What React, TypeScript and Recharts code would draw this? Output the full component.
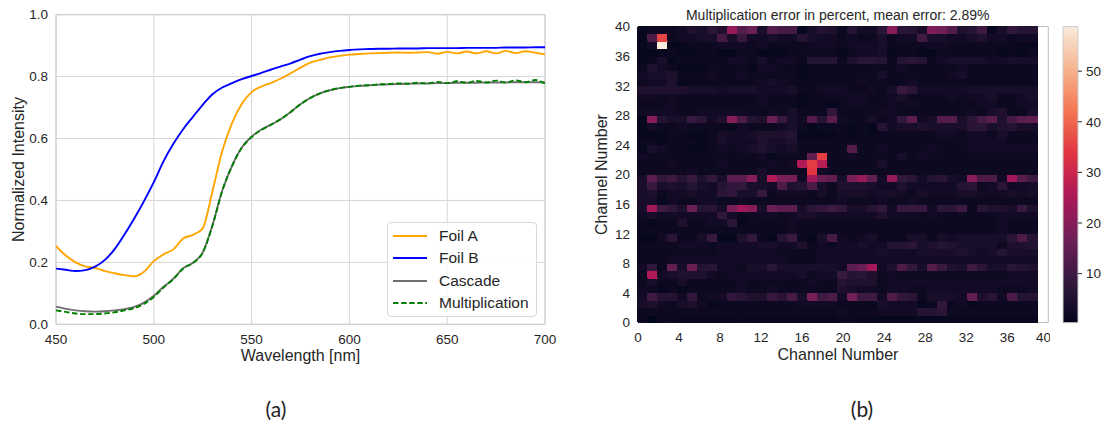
import {
  Bar,
  BarChart,
  CartesianGrid,
  Cell,
  Label,
  Legend,
  Line,
  LineChart,
  ReferenceArea,
  XAxis,
  YAxis,
} from 'recharts'

const FONT = '"Liberation Sans", Arial, Helvetica, sans-serif'
const INK = '#262626'
const GRID = '#d6d6d6'
const FRAME = '#cccccc'

// ---- (a) spectra ----
const wavelengths = [
  450, 455, 460, 465, 470, 475, 480, 485, 490, 495, 500, 505, 510, 515, 520, 525, 530,
  535, 540, 545, 550, 555, 560, 565, 570, 575, 580, 585, 590, 595, 600, 605, 610, 615,
  620, 625, 630, 635, 640, 645, 650, 655, 660, 665, 670, 675, 680, 685, 690, 695, 700,
]
const foilA = [
  0.253, 0.222, 0.2, 0.187, 0.182, 0.172, 0.165, 0.159, 0.155, 0.17, 0.204, 0.226, 0.242,
  0.277, 0.289, 0.31, 0.43, 0.56, 0.65, 0.712, 0.75, 0.768, 0.78, 0.794, 0.811, 0.829,
  0.845, 0.854, 0.862, 0.867, 0.871, 0.873, 0.875, 0.876, 0.877, 0.878, 0.877, 0.878,
  0.879, 0.874, 0.88, 0.875, 0.881, 0.875, 0.882, 0.875, 0.883, 0.876, 0.882, 0.877, 0.872,
]
const foilB = [
  0.18, 0.176, 0.172, 0.175, 0.186, 0.208, 0.243, 0.29, 0.342, 0.398, 0.459, 0.527, 0.583,
  0.63, 0.67, 0.709, 0.743, 0.765, 0.779, 0.792, 0.802, 0.812, 0.823, 0.833, 0.843, 0.855,
  0.866, 0.874, 0.879, 0.883, 0.886, 0.888, 0.889, 0.89, 0.89, 0.891, 0.891, 0.891, 0.892,
  0.892, 0.892, 0.892, 0.893, 0.893, 0.893, 0.893, 0.894, 0.894, 0.894, 0.895, 0.895,
]
const cascade = [
  0.057, 0.05, 0.045, 0.042, 0.041, 0.042, 0.045, 0.049, 0.056, 0.07, 0.092, 0.121, 0.147,
  0.181, 0.199, 0.232, 0.32, 0.432, 0.512, 0.571, 0.606, 0.629, 0.645, 0.663, 0.686, 0.711,
  0.731, 0.746, 0.756, 0.763, 0.767, 0.77, 0.772, 0.774, 0.775, 0.776, 0.777, 0.778, 0.778,
  0.779, 0.779, 0.78, 0.78, 0.78, 0.781, 0.781, 0.781, 0.782, 0.782, 0.782, 0.781,
]
const multiplication = [
  0.045, 0.04, 0.035, 0.033, 0.033, 0.035, 0.039, 0.045, 0.052, 0.066, 0.088, 0.119, 0.146,
  0.18, 0.198, 0.231, 0.319, 0.431, 0.511, 0.57, 0.605, 0.628, 0.645, 0.663, 0.686, 0.711,
  0.731, 0.746, 0.756, 0.763, 0.767, 0.771, 0.772, 0.775, 0.776, 0.778, 0.777, 0.78, 0.778,
  0.783, 0.779, 0.785, 0.78, 0.786, 0.781, 0.787, 0.781, 0.788, 0.782, 0.789, 0.778,
]
const wavelengthTicks = [450, 500, 550, 600, 650, 700]
const intensityTicks = [0, 0.2, 0.4, 0.6, 0.8, 1]

const series = [
  { key: 'foilA', name: 'Foil A', color: '#ffa500', dash: undefined },
  { key: 'foilB', name: 'Foil B', color: '#0000ff', dash: undefined },
  { key: 'cascade', name: 'Cascade', color: '#707070', dash: undefined },
  { key: 'multiplication', name: 'Multiplication', color: '#008000', dash: '5.5 2.6' },
]

const lineRows = wavelengths.map((wavelength, i) => ({
  wavelength,
  foilA: foilA[i],
  foilB: foilB[i],
  cascade: cascade[i],
  multiplication: multiplication[i],
}))

// ---- (b) error heatmap, rows from channel 39 (top) down to channel 0 ----
const errorRows = [
  [1, 2, 2, 2, 3, 5, 4, 7, 5, 22, 13, 16, 4, 13, 11, 11, 1, 4, 6, 5, 2, 6, 3, 3, 7, 20, 7, 6, 4, 19, 17, 13, 5, 6, 10, 1, 4, 8, 6, 6],
  [1, 12, 36, 2, 3, 3, 4, 4, 11, 4, 9, 3, 3, 4, 3, 3, 6, 4, 3, 3, 2, 3, 2, 2, 4, 2, 3, 3, 10, 4, 4, 3, 3, 4, 5, 3, 3, 2, 3, 3],
  [1, 3, 58.8, 1, 1, 2, 2, 2, 3, 3, 3, 2, 3, 2, 2, 2, 2, 3, 3, 3, 2, 3, 3, 3, 4, 2, 2, 2, 2, 3, 3, 2, 2, 2, 2, 2, 2, 2, 1, 1],
  [1, 1, 1, 2, 1, 1, 2, 2, 1, 1, 2, 2, 1, 1, 1, 2, 2, 2, 2, 2, 1, 2, 3, 3, 4, 1, 2, 2, 1, 1, 2, 2, 2, 2, 2, 2, 1, 2, 1, 2],
  [1, 2, 4, 1, 2, 2, 2, 2, 2, 3, 3, 2, 4, 2, 3, 3, 2, 6, 6, 6, 2, 5, 7, 7, 6, 2, 6, 7, 6, 2, 3, 4, 4, 4, 4, 3, 3, 4, 4, 4],
  [2, 5, 3, 2, 1, 1, 1, 2, 2, 2, 2, 1, 3, 3, 2, 2, 1, 2, 2, 2, 2, 2, 2, 2, 2, 2, 3, 2, 2, 2, 2, 2, 3, 2, 2, 2, 2, 2, 2, 2],
  [3, 4, 4, 5, 2, 2, 2, 3, 2, 2, 3, 2, 2, 2, 2, 2, 1, 2, 2, 2, 2, 2, 2, 2, 4, 2, 2, 2, 2, 2, 2, 3, 4, 2, 2, 2, 2, 2, 2, 2],
  [2, 3, 3, 5, 1, 2, 2, 2, 2, 2, 2, 2, 3, 4, 3, 2, 2, 2, 2, 2, 2, 2, 3, 2, 2, 2, 2, 3, 2, 2, 2, 2, 2, 2, 2, 2, 2, 2, 2, 2],
  [5, 5, 5, 5, 5, 4, 4, 4, 3, 4, 4, 4, 3, 3, 3, 4, 2, 2, 3, 3, 3, 2, 2, 3, 2, 4, 9, 7, 3, 3, 3, 3, 3, 4, 4, 4, 4, 4, 4, 4],
  [3, 3, 2, 3, 2, 2, 2, 2, 2, 2, 2, 2, 3, 2, 2, 2, 1, 2, 2, 2, 2, 3, 3, 2, 2, 3, 4, 2, 2, 2, 2, 3, 2, 3, 3, 4, 2, 2, 3, 4],
  [2, 2, 2, 3, 2, 2, 2, 2, 2, 2, 2, 2, 3, 2, 2, 2, 1, 2, 2, 1, 2, 3, 3, 2, 2, 3, 2, 3, 2, 2, 2, 2, 2, 2, 3, 3, 2, 2, 3, 3],
  [3, 3, 3, 3, 2, 2, 3, 3, 3, 3, 3, 2, 2, 3, 2, 4, 2, 2, 2, 8, 2, 2, 2, 2, 3, 3, 2, 2, 2, 2, 2, 2, 2, 3, 2, 4, 5, 2, 2, 4],
  [1, 20, 6, 4, 4, 9, 7, 3, 5, 20, 12, 6, 5, 16, 9, 4, 3, 13, 6, 14, 3, 2, 2, 4, 2, 3, 8, 14, 3, 4, 13, 13, 4, 7, 11, 14, 5, 11, 14, 15],
  [1, 3, 2, 2, 3, 2, 2, 2, 2, 1, 3, 2, 2, 2, 3, 4, 2, 1, 2, 2, 2, 1, 2, 1, 6, 3, 4, 4, 5, 4, 4, 4, 4, 7, 7, 4, 5, 6, 4, 4],
  [1, 1, 1, 2, 2, 1, 1, 2, 4, 3, 3, 4, 5, 5, 5, 6, 1, 1, 1, 1, 2, 1, 2, 1, 2, 2, 2, 2, 2, 2, 3, 3, 2, 3, 3, 2, 4, 2, 2, 2],
  [2, 2, 1, 2, 2, 2, 1, 2, 4, 3, 3, 3, 5, 4, 4, 5, 2, 2, 2, 2, 2, 2, 2, 2, 2, 2, 2, 2, 2, 2, 2, 2, 2, 3, 3, 3, 3, 2, 2, 2],
  [1, 4, 3, 2, 2, 1, 1, 2, 3, 2, 3, 4, 5, 4, 3, 4, 2, 2, 2, 2, 2, 13, 2, 2, 3, 2, 2, 2, 2, 3, 2, 2, 2, 3, 3, 3, 3, 3, 3, 3],
  [3, 2, 2, 2, 2, 2, 2, 2, 2, 2, 2, 2, 3, 1, 2, 2, 2, 15, 35, 2, 2, 3, 2, 2, 2, 2, 4, 2, 3, 2, 2, 2, 2, 2, 2, 2, 2, 2, 2, 2],
  [2, 2, 2, 3, 2, 2, 2, 2, 3, 2, 2, 2, 2, 3, 2, 3, 26, 35, 27, 2, 2, 2, 2, 2, 4, 2, 2, 2, 2, 2, 2, 2, 2, 2, 2, 2, 2, 2, 2, 2],
  [2, 2, 2, 2, 2, 3, 2, 2, 2, 2, 2, 2, 4, 2, 2, 2, 2, 34, 3, 2, 2, 2, 2, 2, 2, 2, 2, 2, 2, 2, 2, 2, 2, 2, 2, 2, 2, 2, 2, 2],
  [4, 14, 8, 10, 6, 9, 5, 8, 4, 14, 14, 20, 4, 26, 18, 18, 3, 24, 16, 15, 4, 18, 22, 15, 3, 22, 8, 7, 3, 6, 7, 4, 3, 20, 12, 12, 3, 24, 14, 10],
  [4, 9, 4, 5, 4, 6, 4, 3, 6, 8, 8, 4, 4, 3, 12, 5, 6, 12, 4, 2, 5, 5, 5, 4, 3, 3, 5, 3, 3, 3, 3, 3, 6, 7, 2, 3, 7, 3, 3, 4],
  [4, 5, 2, 3, 3, 4, 3, 3, 7, 8, 4, 4, 9, 2, 3, 3, 3, 2, 4, 2, 4, 4, 4, 3, 4, 4, 3, 2, 4, 3, 3, 3, 4, 4, 3, 3, 3, 4, 3, 4],
  [4, 4, 1, 3, 2, 2, 3, 3, 2, 2, 3, 2, 2, 2, 2, 2, 2, 2, 2, 2, 3, 2, 2, 2, 3, 2, 2, 3, 2, 2, 2, 2, 2, 2, 2, 2, 2, 2, 2, 2],
  [4, 24, 10, 8, 5, 16, 6, 7, 4, 18, 24, 20, 4, 16, 14, 14, 4, 7, 8, 10, 8, 4, 4, 6, 8, 3, 9, 9, 9, 3, 7, 7, 10, 2, 7, 5, 5, 4, 9, 5],
  [3, 4, 3, 3, 3, 3, 3, 3, 8, 3, 2, 2, 3, 3, 2, 3, 4, 4, 3, 3, 3, 3, 3, 3, 5, 3, 3, 3, 2, 3, 2, 2, 2, 2, 2, 2, 3, 3, 3, 3],
  [2, 1, 2, 2, 5, 2, 2, 3, 3, 7, 1, 2, 2, 2, 2, 3, 2, 2, 2, 2, 2, 2, 2, 2, 2, 2, 2, 2, 2, 2, 2, 2, 2, 2, 2, 2, 3, 2, 2, 2],
  [2, 2, 2, 2, 2, 2, 2, 2, 2, 2, 2, 2, 2, 2, 2, 3, 2, 2, 2, 2, 2, 2, 2, 2, 2, 2, 2, 2, 2, 2, 2, 2, 2, 2, 2, 2, 3, 2, 2, 2],
  [1, 1, 3, 7, 2, 2, 4, 9, 1, 1, 5, 8, 2, 1, 6, 9, 2, 1, 4, 11, 3, 2, 3, 4, 2, 2, 2, 4, 4, 2, 4, 3, 4, 4, 4, 4, 4, 7, 12, 6],
  [2, 2, 2, 2, 3, 3, 3, 2, 3, 3, 3, 3, 4, 4, 3, 3, 5, 2, 3, 2, 3, 3, 4, 3, 3, 6, 6, 7, 4, 5, 6, 5, 4, 4, 4, 4, 2, 5, 5, 6],
  [2, 2, 2, 2, 2, 2, 2, 2, 3, 3, 3, 3, 3, 3, 2, 2, 2, 2, 3, 3, 3, 3, 3, 3, 4, 3, 3, 3, 4, 4, 4, 4, 5, 4, 3, 4, 6, 4, 4, 4],
  [2, 2, 2, 3, 3, 3, 3, 3, 3, 3, 3, 3, 3, 3, 3, 2, 2, 2, 3, 3, 3, 3, 3, 3, 3, 3, 3, 3, 3, 3, 3, 3, 3, 3, 3, 3, 3, 3, 3, 3],
  [3, 8, 2, 15, 4, 16, 6, 7, 3, 3, 2, 4, 4, 7, 4, 4, 4, 4, 4, 4, 3, 14, 16, 24, 3, 5, 12, 8, 4, 13, 9, 5, 4, 10, 7, 4, 4, 7, 6, 5],
  [2, 26, 3, 4, 5, 5, 5, 3, 2, 3, 3, 3, 3, 3, 3, 3, 4, 2, 3, 3, 9, 6, 7, 5, 2, 3, 2, 2, 2, 2, 2, 2, 2, 2, 2, 2, 2, 3, 3, 3],
  [2, 4, 2, 2, 4, 2, 2, 2, 2, 2, 3, 2, 2, 2, 2, 2, 2, 3, 2, 2, 6, 5, 5, 5, 2, 3, 3, 3, 3, 3, 3, 3, 3, 3, 3, 3, 3, 3, 3, 3],
  [3, 2, 1, 2, 1, 2, 2, 2, 2, 2, 3, 2, 2, 3, 2, 2, 2, 2, 2, 2, 5, 4, 3, 3, 2, 3, 3, 2, 2, 3, 3, 3, 3, 3, 3, 3, 2, 2, 2, 3],
  [3, 10, 6, 6, 3, 8, 2, 3, 3, 8, 7, 5, 5, 9, 7, 11, 4, 18, 10, 12, 3, 17, 10, 10, 3, 12, 8, 7, 2, 4, 4, 4, 3, 15, 5, 7, 3, 12, 6, 6],
  [4, 5, 3, 2, 4, 5, 3, 1, 2, 2, 2, 2, 2, 2, 2, 2, 3, 3, 3, 3, 2, 2, 2, 2, 4, 3, 3, 3, 1, 2, 8, 2, 3, 1, 2, 2, 2, 2, 2, 2],
  [2, 2, 2, 2, 2, 2, 2, 2, 2, 2, 2, 2, 2, 2, 2, 2, 2, 2, 2, 2, 3, 2, 2, 2, 3, 3, 3, 3, 6, 6, 7, 2, 2, 2, 2, 2, 2, 2, 2, 2],
  [2, 0.3, 2, 2, 1, 1, 1, 1, 1, 1, 2, 1, 1, 1, 1, 1, 1, 1, 1, 1, 2, 2, 1, 1, 1, 1, 1, 1, 1, 1, 1, 1, 1, 1, 1, 1, 1, 1, 1, 1],
]
const channelIndex = Array.from({ length: 40 }, (_, i) => i)
const channelTicks = [0, 4, 8, 12, 16, 20, 24, 28, 32, 36, 40]
const colorbarTicks = [10, 20, 30, 40, 50]
const heatTitle = 'Multiplication error in percent, mean error: 2.89%'

const allErrors = errorRows.flat()
const vmin = Math.min(...allErrors)
const vmax = Math.max(...allErrors)

// one category per column, one stacked unit per channel row
const heatColumns = channelIndex.map((col) => {
  const row: Record<string, number> = { col }
  channelIndex.forEach((ch) => {
    row[`ch${ch}`] = 1
  })
  return row
})
const colorbarData = [{ name: 'error', range: [vmin, vmax] }]

// seaborn "rocket"
const rocketStops: [number, string][] = [
  [0, '#03051a'],
  [0.143, '#35193e'],
  [0.286, '#701f57'],
  [0.429, '#ad1759'],
  [0.571, '#e13342'],
  [0.714, '#f37651'],
  [0.857, '#f6b48f'],
  [1, '#faebdd'],
]

function hexToRgb(hex: string) {
  const n = parseInt(hex.slice(1), 16)
  return [(n >> 16) & 255, (n >> 8) & 255, n & 255]
}

function rocket(t: number) {
  const x = Math.max(0, Math.min(1, t))
  let i = 0
  while (i < rocketStops.length - 2 && x > rocketStops[i + 1][0]) i++
  const [t0, c0] = rocketStops[i]
  const [t1, c1] = rocketStops[i + 1]
  const f = (x - t0) / (t1 - t0)
  const a = hexToRgb(c0)
  const b = hexToRgb(c1)
  const rgb = a.map((v, k) => Math.round(v + (b[k] - v) * f))
  return `rgb(${rgb[0]},${rgb[1]},${rgb[2]})`
}

const errorColor = (v: number) => rocket((v - vmin) / (vmax - vmin))
const errorAt = (ch: number, col: number) => errorRows[39 - ch][col]

const tickStyle = { fill: INK, fontSize: 13.5, fontFamily: FONT }

function XTitle({ viewBox, text, dy }: any) {
  if (!viewBox) return null
  return (
    <text
      x={viewBox.x + viewBox.width / 2}
      y={viewBox.y + dy}
      textAnchor="middle"
      dominantBaseline="central"
      fill={INK}
      fontSize={16}
      fontFamily={FONT}
    >
      {text}
    </text>
  )
}

function YTitle({ viewBox, text, dx }: any) {
  if (!viewBox) return null
  const x = viewBox.x + dx
  const y = viewBox.y + viewBox.height / 2
  return (
    <text
      x={x}
      y={y}
      transform={`rotate(-90 ${x} ${y})`}
      textAnchor="middle"
      dominantBaseline="central"
      fill={INK}
      fontSize={16}
      fontFamily={FONT}
    >
      {text}
    </text>
  )
}

function FoilLegend() {
  return (
    <div
      style={{
        width: 148,
        padding: '2px 0',
        border: '1px solid #d9d9d9',
        borderRadius: 4,
        background: 'rgba(255,255,255,0.85)',
      }}
    >
      {series.map((s) => (
        <div key={s.key} style={{ display: 'flex', alignItems: 'center', height: 22.3 }}>
          <svg width={46} height={10}>
            <line x1={5} x2={39} y1={5} y2={5} stroke={s.color} strokeWidth={2} strokeDasharray={s.dash} />
          </svg>
          <span style={{ marginLeft: 5, fontSize: 15.5, color: INK, fontFamily: FONT, lineHeight: '18px' }}>
            {s.name}
          </span>
        </div>
      ))}
    </div>
  )
}

function SpectraChart() {
  return (
    <LineChart
      width={560}
      height={370}
      data={lineRows}
      margin={{ top: 14.7, right: 15, bottom: 5.7, left: 16 }}
    >
      <CartesianGrid stroke={GRID} />
      <XAxis
        dataKey="wavelength"
        type="number"
        domain={[450, 700]}
        ticks={wavelengthTicks}
        axisLine={false}
        tickLine={false}
        tickSize={0}
        tickMargin={10}
        tick={tickStyle}
        height={40}
      >
        <Label content={<XTitle text="Wavelength [nm]" dy={31} />} />
      </XAxis>
      <YAxis
        type="number"
        domain={[0, 1]}
        ticks={intensityTicks}
        tickFormatter={(v: number) => v.toFixed(1)}
        axisLine={false}
        tickLine={false}
        tickSize={0}
        tickMargin={8}
        tick={tickStyle}
        width={40}
      >
        <Label content={<YTitle text="Normalized Intensity" dx={2} />} />
      </YAxis>
      <ReferenceArea x1={450} x2={700} y1={0} y2={1} fill="none" stroke={FRAME} ifOverflow="visible" />
      {series.map((s) => (
        <Line
          key={s.key}
          type="monotone"
          dataKey={s.key}
          name={s.name}
          stroke={s.color}
          strokeWidth={1.9}
          strokeDasharray={s.dash}
          dot={false}
          activeDot={false}
          isAnimationActive={false}
        />
      ))}
      <Legend
        content={<FoilLegend />}
        layout="vertical"
        align="center"
        verticalAlign="middle"
        wrapperStyle={{ left: 387, top: 222, width: 150 }}
      />
    </LineChart>
  )
}

function ErrorHeatmap() {
  return (
    <BarChart
      width={472.3}
      height={370}
      data={heatColumns}
      margin={{ top: 26.6, right: 12.3, bottom: 7.5, left: 20 }}
      barCategoryGap={0}
    >
      <XAxis xAxisId="cat" dataKey="col" type="category" hide height={0} />
      <XAxis
        xAxisId="num"
        type="number"
        domain={[0, 40]}
        ticks={channelTicks}
        axisLine={false}
        tickLine={false}
        tickSize={0}
        tickMargin={10}
        tick={tickStyle}
        height={40}
      >
        <Label content={<XTitle text="Channel Number" dy={32.5} />} />
      </XAxis>
      <YAxis
        type="number"
        domain={[0, 40]}
        ticks={channelTicks}
        axisLine={false}
        tickLine={false}
        tickSize={0}
        tickMargin={8}
        tick={tickStyle}
        width={40}
      >
        <Label content={<YTitle text="Channel Number" dx={3.3} />} />
      </YAxis>
      {channelIndex.map((ch) => (
        <Bar key={ch} xAxisId="cat" dataKey={`ch${ch}`} stackId="heat" isAnimationActive={false}>
          {channelIndex.map((col) => {
            const c = errorColor(errorAt(ch, col))
            return <Cell key={col} fill={c} stroke={c} strokeWidth={1} shapeRendering="crispEdges" />
          })}
        </Bar>
      ))}
      <ReferenceArea
        xAxisId="num"
        x1={0}
        x2={40}
        y1={0}
        y2={40}
        fill="none"
        stroke="#bdbdbd"
        ifOverflow="visible"
      />
    </BarChart>
  )
}

function Colorbar() {
  return (
    <BarChart
      width={52}
      height={370}
      data={colorbarData}
      margin={{ top: 26.6, right: 0, bottom: 47.3, left: 13 }}
      barCategoryGap={0}
    >
      <defs>
        <linearGradient id="rocketBar" x1="0" y1="1" x2="0" y2="0">
          {rocketStops.map(([t, c]) => (
            <stop key={t} offset={t} stopColor={c} />
          ))}
        </linearGradient>
      </defs>
      <XAxis dataKey="name" hide height={0} />
      <YAxis
        orientation="right"
        type="number"
        domain={[vmin, vmax]}
        ticks={colorbarTicks}
        axisLine={false}
        tickLine={{ stroke: INK }}
        tickSize={4}
        tickMargin={4}
        tick={tickStyle}
        width={24}
      />
      <Bar dataKey="range" fill="url(#rocketBar)" stroke={FRAME} isAnimationActive={false} />
    </BarChart>
  )
}

export default function App() {
  return (
    <div
      style={{
        position: 'absolute',
        left: 0,
        top: 0,
        width: 1102,
        height: 428,
        overflow: 'hidden',
        background: '#fff',
      }}
    >
      <div style={{ position: 'absolute', left: 0, top: 0 }}>
        <SpectraChart />
      </div>
      <div style={{ position: 'absolute', left: 577.7, top: 0 }}>
        <ErrorHeatmap />
      </div>
      <div style={{ position: 'absolute', left: 1050, top: 0 }}>
        <Colorbar />
      </div>
      <div
        style={{
          position: 'absolute',
          left: 637.7,
          top: 6,
          width: 400,
          textAlign: 'center',
          fontFamily: FONT,
          fontSize: 14,
          color: INK,
          lineHeight: '18px',
        }}
      >
        {heatTitle}
      </div>
      <div
        style={{
          position: 'absolute',
          left: 226,
          width: 100,
          top: 396,
          textAlign: 'center',
          fontFamily: 'Lato, "Open Sans", sans-serif',
          fontSize: 21,
          color: '#222',
          lineHeight: '26px',
        }}
      >
        (a)
      </div>
      <div
        style={{
          position: 'absolute',
          left: 812,
          width: 100,
          top: 396,
          textAlign: 'center',
          fontFamily: 'Lato, "Open Sans", sans-serif',
          fontSize: 21,
          color: '#222',
          lineHeight: '26px',
        }}
      >
        (b)
      </div>
    </div>
  )
}
